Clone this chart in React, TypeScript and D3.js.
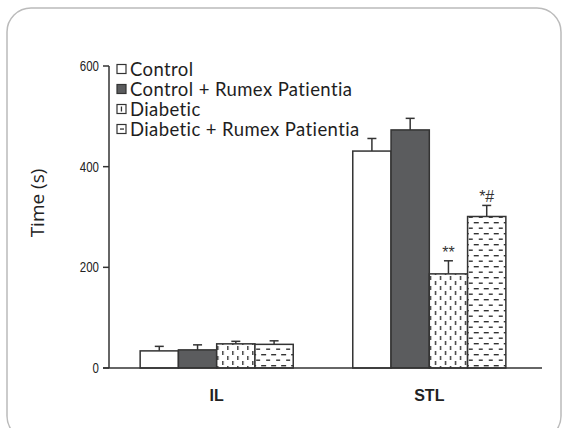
import React from "react";
import * as d3 from "d3";

const groups = ["IL", "STL"];
const series = ["Control", "Control + Rumex Patientia", "Diabetic", "Diabetic + Rumex Patientia"];
const ilMeans = [34, 36, 48, 47];
const ilErrors = [9, 10, 5, 7];
const stlMeans = [431, 473, 187, 301];
const stlErrors = [25, 23, 26, 22];
const stlMarks = ["", "", "**", "*#"];
const yTicks = [0, 200, 400, 600];

const fills = ["#ffffff", "#5b5c5e", "url(#vdash)", "url(#hdash)"];

const App = () => {
    const width = 564;
    const height = 428;

    const x = d3.scaleBand().domain(groups).range([104, 542]).paddingInner(0.28).paddingOuter(0.17);
    const xs = d3.scaleBand().domain(series).range([0, x.bandwidth()]);
    const y = d3.scaleLinear().domain([0, 600]).range([368, 66]);

    const data = [
        { g: "IL", means: ilMeans, errs: ilErrors, marks: ["", "", "", ""] },
        { g: "STL", means: stlMeans, errs: stlErrors, marks: stlMarks },
    ];

    return (
        <svg width={width} height={height} style={{ position: "absolute", left: 0, top: 0 }}>
            <defs>
                <pattern id="vdash" patternUnits="userSpaceOnUse" width="10" height="10">
                    <rect width="10" height="10" fill="#fff" />
                    <rect x="2" y="1" width="1.4" height="4" fill="#333" />
                    <rect x="7" y="6" width="1.4" height="4" fill="#333" />
                </pattern>
                <pattern id="hdash" patternUnits="userSpaceOnUse" width="10" height="11">
                    <rect width="10" height="11" fill="#fff" />
                    <rect x="1" y="2" width="5" height="1.4" fill="#333" />
                    <rect x="6" y="7.5" width="5" height="1.4" fill="#333" />
                </pattern>
            </defs>
            <rect x={7} y={8} width={554} height={432} rx={24} fill="#fff" stroke="#bbb" strokeWidth={1.5} />

            {/* bars */}
            {data.map((d) => (
                <g key={d.g} transform={`translate(${x(d.g)},0)`}>
                    {series.map((s, i) => {
                        const bx = xs(s)!;
                        const bw = xs.bandwidth();
                        const cx = bx + bw / 2;
                        const top = y(d.means[i]);
                        const cap = y(d.means[i] + d.errs[i]);
                        return (
                            <g key={s}>
                                <line x1={cx} x2={cx} y1={top} y2={cap} stroke="#333" strokeWidth={1.5} />
                                <line x1={cx - 4.5} x2={cx + 4.5} y1={cap} y2={cap} stroke="#333" strokeWidth={1.5} />
                                <rect x={bx} y={top} width={bw} height={y(0) - top} fill={fills[i]} stroke="#333" strokeWidth={1.5} />
                                {d.marks[i] && (
                                    <text x={cx} y={cap - 3} textAnchor="middle" fontFamily="Liberation Sans" fontSize={16} fill="#333">
                                        {d.marks[i]}
                                    </text>
                                )}
                            </g>
                        );
                    })}
                </g>
            ))}

            {/* axes */}
            <line x1={109} x2={109} y1={y(600)} y2={y(0)} stroke="#333" strokeWidth={1.5} />
            <line x1={103} x2={542} y1={y(0)} y2={y(0)} stroke="#333" strokeWidth={1.5} />
            {yTicks.map((t) => (
                <g key={t}>
                    <line x1={103} x2={109} y1={y(t)} y2={y(t)} stroke="#333" strokeWidth={1.5} />
                    <text transform={`translate(99,${y(t)}) scale(0.82,1)`} dy="0.36em" textAnchor="end" fontFamily="Liberation Sans" fontSize={14} fill="#222">
                        {t}
                    </text>
                </g>
            ))}
            {groups.map((g) => (
                <text key={g} x={x(g)! + x.bandwidth() / 2} y={401} textAnchor="middle" fontFamily="Liberation Sans" fontWeight="bold" fontSize={16} fill="#222">
                    {g}
                </text>
            ))}
            <text transform="translate(44,203) rotate(-90)" textAnchor="middle" fontFamily="Open Sans" fontSize={19} fill="#222">
                Time (s)
            </text>

            {/* legend */}
            {series.map((s, i) => (
                <g key={s} transform={`translate(117,${69 + i * 20})`}>
                    <rect x={0} y={-4.5} width={9} height={9} fill={i >= 2 ? "#fff" : fills[i]} stroke="#333" strokeWidth={1.2} />
                    {i === 2 && <rect x={3.8} y={-2.5} width={1.3} height={5} fill="#333" />}
                    {i === 3 && <rect x={3} y={-0.6} width={4} height={1.3} fill="#333" />}
                    <text x={13} y={0} dy="0.36em" fontFamily="Lato" fontSize={18.5} letterSpacing={0.4} fill="#1e1e1e">
                        {s}
                    </text>
                </g>
            ))}
        </svg>
    );
};

export default App;
